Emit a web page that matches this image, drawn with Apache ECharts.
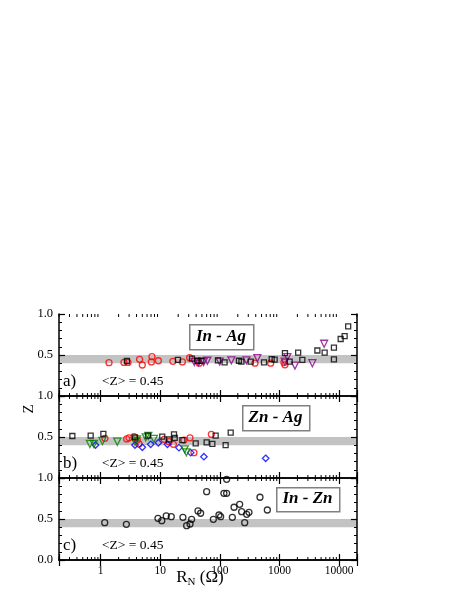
<!DOCTYPE html>
<html>
<head>
<meta charset="utf-8">
<script src="https://cdn.jsdelivr.net/npm/echarts@6/dist/echarts.min.js"></script>
<style>
html, body { margin: 0; padding: 0; background: #fff; }
#chart { width: 463px; height: 599px; }
</style>
</head>
<body>
<div id="chart"></div>
<script>
let chart = echarts.init(document.getElementById('chart'));

// a) In - Ag
let inAg_squares = [[2.76, 0.427], [19.8, 0.44], [34, 0.455], [41.9, 0.43], [48.9, 0.43], [92.9, 0.435],
    [120, 0.41], [209, 0.43], [230, 0.42], [329, 0.42], [550, 0.41], [740, 0.45], [830, 0.443],
    [1236, 0.524], [1483, 0.42], [2060, 0.53], [2420, 0.44], [4325, 0.555], [5730, 0.53],
    [8200, 0.59], [8200, 0.447], [10640, 0.695], [12400, 0.73], [14220, 0.85]];
let inAg_circles = [[1.38, 0.406], [2.46, 0.41], [2.87, 0.41], [4.5, 0.447], [5.0, 0.378], [7.26, 0.48],
    [7.1, 0.415], [9.3, 0.43], [16.3, 0.423], [23.5, 0.415], [31.1, 0.467], [45, 0.40],
    [388, 0.40], [712, 0.40], [1190, 0.41], [1236, 0.38]];
let inAg_triangles = [[37.3, 0.415], [44, 0.41], [53.4, 0.415], [61.7, 0.43], [99.3, 0.42], [156, 0.435],
    [279, 0.435], [426, 0.463], [1222, 0.42], [1358, 0.475], [1820, 0.37], [3565, 0.40], [5620, 0.637]];

// b) Zn - Ag
let znAg_squares = [[0.335, 0.512], [0.68, 0.516], [1.11, 0.537], [3.77, 0.496], [6.22, 0.516], [10.8, 0.504],
    [14, 0.472], [17, 0.533], [17.5, 0.49], [23.5, 0.463], [39.3, 0.423], [60, 0.435], [74.8, 0.415],
    [85, 0.516], [125, 0.402], [152, 0.553]];
let znAg_circles = [[1.18, 0.484], [2.73, 0.476], [2.99, 0.49], [3.62, 0.504], [4.13, 0.463], [4.4, 0.415],
    [11.6, 0.472], [14, 0.443], [16.6, 0.411], [25, 0.463], [31.5, 0.49], [36.8, 0.309], [72, 0.533]];
let znAg_diamonds = [[0.82, 0.402], [3.77, 0.402], [5.0, 0.374], [6.9, 0.411], [9.3, 0.43], [13.2, 0.411],
    [20.6, 0.37], [32.4, 0.309], [54, 0.26], [587, 0.24]];
let znAg_triangles = [[0.66, 0.415], [0.77, 0.415], [1.07, 0.451], [1.9, 0.443], [3.77, 0.443], [4.07, 0.472],
    [5.7, 0.496], [6.3, 0.512], [7.8, 0.476], [25.7, 0.35], [27.4, 0.313]];

// c) In - Zn
let inZn_circles = [[1.17, 0.455], [2.7, 0.435], [9.15, 0.508], [10.6, 0.48], [12.6, 0.537], [15.3, 0.528],
    [24, 0.52], [27.7, 0.418], [31.6, 0.439], [33.6, 0.496], [43, 0.598], [47.6, 0.57], [60, 0.833],
    [77.8, 0.496], [96.6, 0.549], [103, 0.528], [117, 0.813], [130, 0.813], [130, 0.984], [162, 0.52],
    [173, 0.643], [215, 0.679], [232, 0.589], [261, 0.455], [282, 0.557], [308, 0.582], [471, 0.765], [626, 0.61]];

let band = [[0.4, 0.5]];
let mean_text = '<Z> = 0.45';
let panel_labels = ['a)', 'b)', 'c)'];
let box_labels = ['In - Ag', 'Zn - Ag', 'In - Zn'];

// minor ticks for log x axis
let minor_ticks = [];
for (let e = -1; e <= 4; e++) {
    for (let m = 2; m <= 9; m++) {
        let v = m * Math.pow(10, e);
        if (v >= 0.2 && v <= 20000) minor_ticks.push(v);
    }
}

let font = '"Liberation Serif", "Times New Roman", serif';
let tops = [314, 396, 478];
let grids = [], xAxes = [], yAxes = [], series = [];

function logLabel(v) {
    let l = Math.log10(v);
    return Math.abs(l - Math.round(l)) < 1e-6 ? String(Math.round(v)) : '';
}

for (let i = 0; i < 3; i++) {
    grids.push({left: 59, top: tops[i], width: 298, height: 82});
    ['bottom', 'top'].forEach(function (pos) {
        xAxes.push({
            gridIndex: i, type: 'log', min: 0.2, max: 20000, position: pos, z: 10,
            axisLine: {lineStyle: {color: '#000', width: 1.5}},
            axisTick: {inside: true, length: 6, lineStyle: {color: '#000', width: 1.2}},
            axisLabel: {
                show: i === 2 && pos === 'bottom', formatter: logLabel, margin: 5,
                color: '#000', fontFamily: font, fontSize: 11.5
            },
            splitLine: {show: false}
        });
    });
    ['left', 'right'].forEach(function (pos) {
        yAxes.push({
            gridIndex: i, type: 'value', min: 0, max: 1, interval: 0.5, position: pos, z: 10,
            axisLine: {lineStyle: {color: '#000', width: 1.5}},
            axisTick: {inside: true, length: 6, lineStyle: {color: '#000', width: 1.2}},
            minorTick: {show: true, splitNumber: 5, length: 3, lineStyle: {color: '#000', width: 1}},
            axisLabel: {
                show: pos === 'left', showMinLabel: i === 2, margin: 6,
                formatter: function (v) { return v.toFixed(1); },
                color: '#000', fontFamily: font, fontSize: 12.5
            },
            splitLine: {show: false}
        });
    });

    // gray band
    series.push({
        type: 'custom', xAxisIndex: 2 * i, yAxisIndex: 2 * i, z: 1, silent: true,
        data: band,
        renderItem: function (params, api) {
            let p1 = api.coord([0.2, api.value(1)]);
            let p2 = api.coord([20000, api.value(0)]);
            return {type: 'rect', shape: {x: p1[0], y: p1[1], width: p2[0] - p1[0], height: p2[1] - p1[1]},
                style: {fill: '#c3c3c3'}};
        }
    });
    // minor ticks of the log axis (bottom and top)
    series.push({
        type: 'custom', xAxisIndex: 2 * i, yAxisIndex: 2 * i, z: 12, silent: true,
        data: minor_ticks,
        renderItem: function (params, api) {
            let b = api.coord([api.value(0), 0]);
            let t = api.coord([api.value(0), 1]);
            let st = {stroke: '#000', lineWidth: 1};
            return {type: 'group', children: [
                {type: 'line', shape: {x1: b[0], y1: b[1], x2: b[0], y2: b[1] - 3}, style: st},
                {type: 'line', shape: {x1: t[0], y1: t[1], x2: t[0], y2: t[1] + 3}, style: st}
            ]};
        }
    });
}

function scatter(grid, data, symbol, size, color, rotate) {
    return {
        type: 'scatter', xAxisIndex: 2 * grid, yAxisIndex: 2 * grid, z: 5,
        data: data, symbol: symbol, symbolSize: size, symbolRotate: rotate || 0,
        itemStyle: {color: 'rgba(0,0,0,0)', borderColor: color, borderWidth: 1.3},
        emphasis: {disabled: true}
    };
}

series.push(scatter(0, inAg_circles, 'circle', 6, '#ff0000'));
series.push(scatter(0, inAg_triangles, 'triangle', 7, '#8b008b', 180));
series.push(scatter(0, inAg_squares, 'rect', 5, '#000'));
series.push(scatter(1, znAg_circles, 'circle', 6, '#ff0000'));
series.push(scatter(1, znAg_diamonds, 'diamond', 6.5, '#0000ff'));
series.push(scatter(1, znAg_triangles, 'triangle', 7, '#008000', 180));
series.push(scatter(1, znAg_squares, 'rect', 5, '#000'));
series.push(scatter(2, inZn_circles, 'circle', 6, '#000'));

let boxes = [[189, 324, 64, 25], [242, 405, 67, 25], [276, 487, 63, 24]];
let graphics = [];
for (let i = 0; i < 3; i++) {
    let b = boxes[i];
    graphics.push({type: 'rect', left: b[0], top: b[1], z: 20,
        shape: {width: b[2], height: b[3]}, style: {fill: '#fff', stroke: '#808080', lineWidth: 1.5}});
    graphics.push({type: 'text', x: b[0] + b[2] / 2, y: b[1] + b[3] / 2, z: 21,
        style: {text: box_labels[i], fill: '#000', font: 'italic bold 17px ' + font, align: 'center', verticalAlign: 'middle'}});
    graphics.push({type: 'text', x: 63, y: tops[i] + 68, z: 21,
        style: {text: panel_labels[i], fill: '#000', font: '17px ' + font, verticalAlign: 'middle'}});
    graphics.push({type: 'text', x: 102, y: tops[i] + 67, z: 21,
        style: {text: mean_text, fill: '#000', font: '13.5px ' + font, verticalAlign: 'middle'}});
}
// y axis title
graphics.push({type: 'text', x: 29, y: 409, rotation: Math.PI / 2, z: 21,
    style: {text: 'Z', fill: '#000', font: '15px ' + font, align: 'center', verticalAlign: 'middle'}});
// x axis title
graphics.push({type: 'text', x: 200, y: 578, z: 21,
    style: {
        text: '{r|R}{s|N}{r| (Ω)}', align: 'center', verticalAlign: 'middle',
        rich: {
            r: {fontFamily: font, fontSize: 17, fill: '#000'},
            s: {fontFamily: font, fontSize: 11, fill: '#000', padding: [9, 0, 0, 0]}
        }
    }
});

chart.setOption({
    animation: false,
    grid: grids,
    xAxis: xAxes,
    yAxis: yAxes,
    series: series,
    graphic: graphics
});
</script>
</body>
</html>
